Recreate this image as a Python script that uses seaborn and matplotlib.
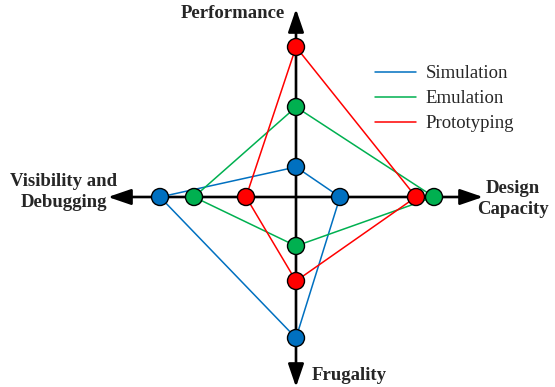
import numpy as np
import pandas as pd
import matplotlib
matplotlib.use('Agg')
import matplotlib.pyplot as plt
import seaborn as sns

# --- data (distance from centre along each axis) ---
axis_labels = ['Performance', 'Design\nCapacity', 'Frugality', 'Visibility and\nDebugging']
methods = ['Simulation', 'Emulation', 'Prototyping']
simulation = [30, 44, 141, 136]
emulation = [90, 138, 49, 102]
prototyping = [150, 120, 84, 50]
colors = ['#0070C0', '#00B050', '#FF0000']

sns.set_style('white')
plt.rcParams['font.family'] = ['Liberation Serif', 'DejaVu Serif']

# up, right, down, left
directions = [(0, 1), (1, 0), (0, -1), (-1, 0)]

rows = []
for name, vals in zip(methods, [simulation, emulation, prototyping]):
    for k, i in enumerate([0, 1, 2, 3, 0]):
        dx, dy = directions[i]
        rows.append({'method': name, 'x': vals[i] * dx, 'y': vals[i] * dy,
                     'order': k, 'closing': k == 4})
df = pd.DataFrame(rows)
palette = dict(zip(methods, colors))

fig = plt.figure(figsize=(5.55, 3.87), dpi=100)
ax = fig.add_axes([0, 0, 1, 1])
ax.set_xlim(-296, 259)
ax.set_ylim(-190, 197)
ax.axis('off')

# --- axes with arrows ---
arrow = dict(arrowstyle='-|>,head_length=0.7,head_width=0.24', mutation_scale=20,
             lw=1.9, color='black', shrinkA=0, shrinkB=0)
for tip in [(0, 188), (187, 0), (0, -190), (-188, 0)]:
    ax.annotate('', xy=tip, xytext=(0, 0), arrowprops=arrow, zorder=1)

# --- polygons ---
sns.lineplot(data=df, x='x', y='y', hue='method', palette=palette, sort=False,
             estimator=None, lw=1.1, ax=ax, zorder=2)

# --- markers ---
sns.scatterplot(data=df[~df['closing']], x='x', y='y', hue='method', palette=palette,
                s=150, edgecolor='black', linewidth=1.0, legend=False, ax=ax, zorder=4)

ax.legend(frameon=False, loc='upper left', bbox_to_anchor=(0.645, 0.875),
          fontsize=13.5, handlelength=2.2, labelspacing=0.42, handletextpad=0.5)

lab = dict(fontsize=13.5, fontweight='bold', ha='center', va='center', linespacing=1.25)
ax.text(-63, 184, axis_labels[0], **lab)
ax.text(217, -2, axis_labels[1], **lab)
ax.text(53, -178, axis_labels[2], **lab)
ax.text(-232, 5, axis_labels[3], **lab)

fig.savefig('out.png', dpi=100)
